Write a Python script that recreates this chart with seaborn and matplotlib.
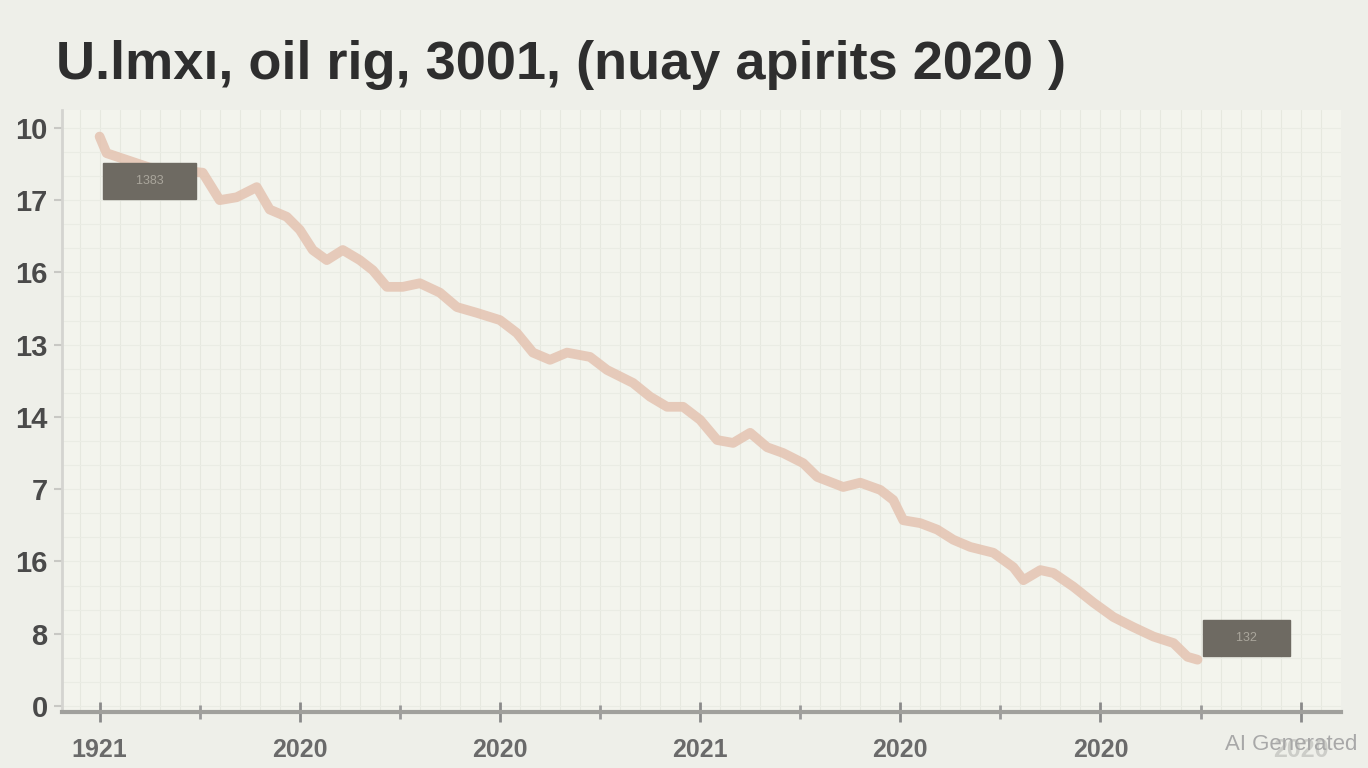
"""Recreate the blurry 'oil rig' decline line chart."""
import matplotlib
matplotlib.use("Agg")
import matplotlib.pyplot as plt
import numpy as np
import pandas as pd
import seaborn as sns

# Positions along the x axis (tick units) and the traced line values
x_pos = [0.00, 0.07, 0.50, 1.03, 1.20, 1.37, 1.57, 1.70, 1.87, 2.00, 2.13, 2.27,
         2.43, 2.60, 2.73, 2.87, 3.03, 3.20, 3.40, 3.57, 3.77, 4.00, 4.17, 4.33,
         4.50, 4.67, 4.90, 5.07, 5.33, 5.50, 5.67, 5.83, 6.00, 6.17, 6.33, 6.50,
         6.67, 6.83, 7.03, 7.17, 7.43, 7.60, 7.80, 7.93, 8.03, 8.20, 8.37, 8.53,
         8.70, 8.93, 9.13, 9.23, 9.40, 9.53, 9.73, 9.93, 10.13, 10.33, 10.53,
         10.73, 10.87, 10.97]
rig_values = [7.88, 7.65, 7.45, 7.38, 7.00, 7.04, 7.18, 6.87, 6.77, 6.59, 6.31,
              6.17, 6.31, 6.17, 6.03, 5.80, 5.80, 5.85, 5.72, 5.52, 5.44, 5.34,
              5.16, 4.89, 4.79, 4.89, 4.83, 4.65, 4.47, 4.28, 4.14, 4.14, 3.96,
              3.68, 3.64, 3.78, 3.58, 3.50, 3.36, 3.17, 3.03, 3.09, 2.99, 2.85,
              2.57, 2.53, 2.44, 2.30, 2.20, 2.12, 1.92, 1.74, 1.88, 1.84, 1.65,
              1.43, 1.23, 1.09, 0.96, 0.87, 0.68, 0.64]

y_tick_labels = ["0", "8", "16", "7", "14", "13", "16", "17", "10"]
x_tick_labels = ["1921", "2020", "2020", "2021", "2020", "2020", "2020"]
box_labels = ["1383", "132"]
box_x = [0.50, 11.46]
box_y = [7.26, 0.94]

title = "U.lmxı, oil rig, 3001, (nuay apirits 2020 )"

sns.set_theme(style="white")
plt.rcParams["font.family"] = ["Liberation Sans", "DejaVu Sans"]

fig = plt.figure(figsize=(13.68, 7.68), dpi=100, facecolor="#eeefe9")
ax = fig.add_axes([0.045, 0.073, 0.935, 0.784])
ax.set_facecolor("#f3f4ed")

df = pd.DataFrame({"x": x_pos, "rigs": rig_values})
sns.lineplot(data=df, x="x", y="rigs", ax=ax, color="#e4c3b1",
             linewidth=7, alpha=0.85, solid_capstyle="round",
             solid_joinstyle="round")

ax.set_xlim(-0.38, 12.4)
ax.set_ylim(-0.083, 8.25)

ax.set_yticks(range(len(y_tick_labels)))
ax.set_yticklabels(y_tick_labels, fontsize=21, color="#4a4a4a", fontweight="bold")
ax.set_xticks(range(0, 2 * len(x_tick_labels), 2))
ax.set_xticklabels(x_tick_labels, fontsize=18, color="#6a6a6a", fontweight="bold")
ax.set_xticks(range(1, 2 * len(x_tick_labels) - 1, 2), minor=True)

ax.tick_params(axis="y", left=True, length=6, width=1.5, color="#c8c8c4",
               pad=4, direction="out")
ax.tick_params(axis="x", which="major", bottom=True, length=14, width=2,
               color="#8a8a8a", pad=12, direction="inout")
ax.tick_params(axis="x", which="minor", bottom=True, length=10, width=2,
               color="#9a9a9a", direction="inout")

# faint background grid
for gx in np.arange(-0.2, 12.4, 0.2):
    ax.axvline(gx, color="#e6e8df", linewidth=0.8, zorder=0)
for gy in np.arange(0, 8.3, 1 / 3):
    ax.axhline(gy, color="#eaece4", linewidth=0.8, zorder=0)

for side in ["top", "right"]:
    ax.spines[side].set_visible(False)
ax.spines["left"].set_color("#d4d4d0")
ax.spines["left"].set_linewidth(2)
ax.spines["bottom"].set_color("#a0a09c")
ax.spines["bottom"].set_linewidth(3)

ax.set_xlabel("")
ax.set_ylabel("")

for lbl, bx, by in zip(box_labels, box_x, box_y):
    ax.text(bx, by, f"      {lbl}      ", ha="center", va="center", fontsize=9,
            color="#aaa69c", zorder=5,
            bbox=dict(boxstyle="square,pad=0.95", facecolor="#6e6a62",
                      edgecolor="#6e6a62"))

fig.text(0.041, 0.915, title, fontsize=39, fontweight="bold", color="#2e2e2e",
         ha="left", va="center")
fig.text(0.992, 0.03, "AI Generated", fontsize=16, color="#a8a8a8",
         ha="right", va="center",
         bbox=dict(boxstyle="square,pad=0.1", facecolor="#eeefe9",
                   edgecolor="none", alpha=0.75))

fig.savefig("out.png", dpi=100, facecolor=fig.get_facecolor())
